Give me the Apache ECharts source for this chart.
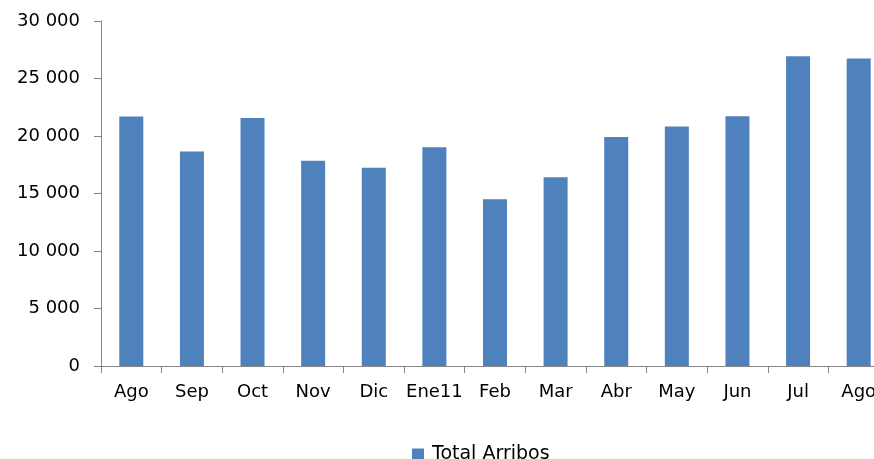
<!DOCTYPE html>
<html>
<head>
<meta charset="utf-8">
<script src="https://cdn.jsdelivr.net/npm/echarts@6/dist/echarts.min.js"></script>
<style>html,body{margin:0;padding:0;background:#fff}#c{width:874px;height:459px}</style>
</head>
<body>
<div id="c"></div>
<script>
var categories = ['Ago','Sep','Oct','Nov','Dic','Ene11','Feb','Mar','Abr','May','Jun','Jul','Ago'];
var totalArribos = [21700,18650,21570,17840,17230,19030,14510,16420,19920,20820,21720,26930,26730];
var yTicks = [0,5000,10000,15000,20000,25000,30000];
var seriesName = 'Total Arribos';

var chart = echarts.init(document.getElementById('c'), null, {renderer:'canvas'});
var fmt = function(v){ return String(v).replace(/\B(?=(\d{3})+(?!\d))/g, ' '); };
var txt = {fontFamily:'DejaVu Sans', fontSize:18, color:'#000'};
chart.setOption({
  animation:false,
  backgroundColor:'#fff',
  grid:{left:101, top:21, width:788, height:345, containLabel:false, outerBoundsMode:'none'},
  legend:{
    data:[seriesName], left:412, top:445, padding:0, icon:'rect', itemWidth:12, itemHeight:12,
    itemGap:10,
    textStyle:{fontFamily:'DejaVu Sans', fontSize:19, color:'#000', padding:[0,0,0,3]}
  },
  xAxis:{
    type:'category', data:categories,
    axisLine:{lineStyle:{color:'#868686', width:1}},
    axisTick:{show:true, length:7, lineStyle:{color:'#868686'}},
    axisLabel:Object.assign({margin:17, interval:0}, txt)
  },
  yAxis:{
    type:'value', min:yTicks[0], max:yTicks[yTicks.length-1], interval:yTicks[1]-yTicks[0],
    axisLine:{show:true, lineStyle:{color:'#868686', width:1}},
    axisTick:{show:true, length:7, lineStyle:{color:'#868686'}},
    splitLine:{show:false},
    axisLabel:Object.assign({margin:21, formatter:fmt}, txt)
  },
  series:[{
    name:seriesName, type:'bar', data:totalArribos, barWidth:24,
    itemStyle:{color:'#4F81BD'}
  }]
});
</script>
</body>
</html>
